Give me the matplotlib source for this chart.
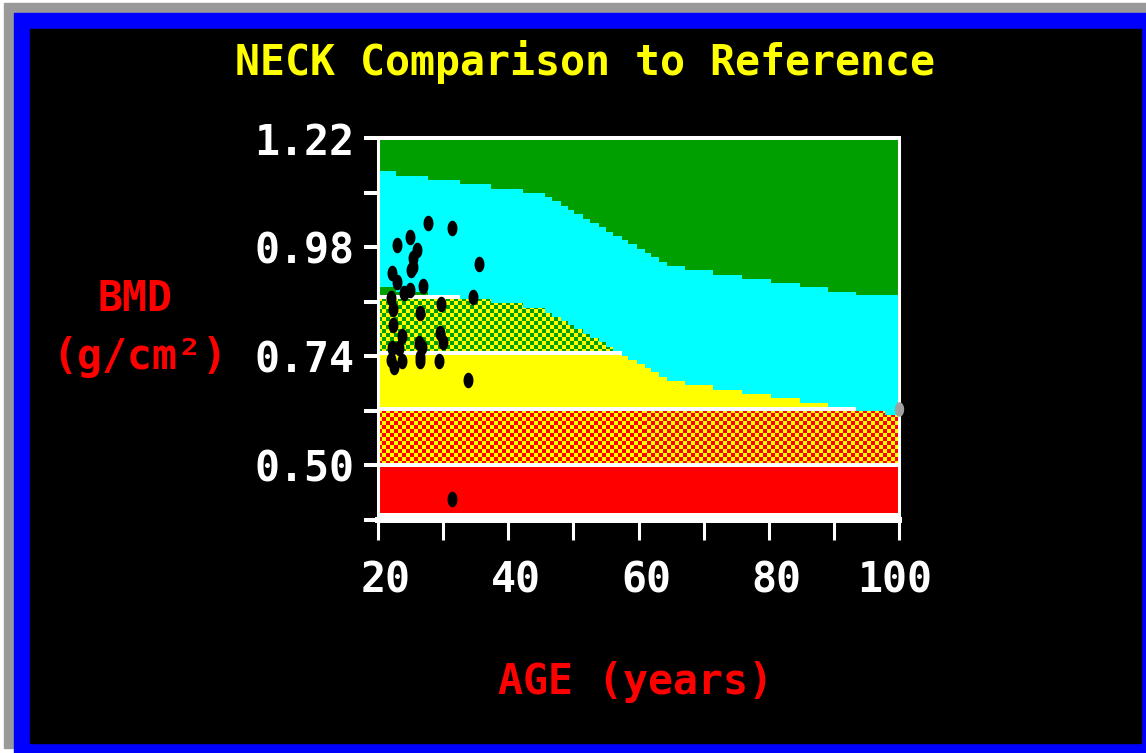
import numpy as np
import matplotlib
matplotlib.use("Agg")
import matplotlib.pyplot as plt
from matplotlib.colors import ListedColormap
from matplotlib.patches import Rectangle
from matplotlib.path import Path
from matplotlib.transforms import ScaledTranslation

# ---------------- data ----------------
title = "NECK Comparison to Reference"
y_label_1 = "BMD"
y_label_2 = "(g/cm²)"
x_label = "AGE (years)"

# reference curve step edges (age) and upper / lower BMD limits of the cyan band
step_ages = [20.0, 22.7, 27.7, 32.6, 37.4, 42.3, 45.6, 46.7, 48.1, 49.2, 50.1, 51.5,
             52.6, 53.9, 55.0, 56.1, 57.4, 58.4, 59.8, 61.0, 61.9, 63.2, 64.3, 67.2,
             71.5, 75.9, 80.4, 84.8, 89.1, 93.4, 97.8, 100.0]
upper = [1.148, 1.137, 1.128, 1.119, 1.108, 1.100, 1.090, 1.082, 1.071, 1.062, 1.053,
         1.042, 1.034, 1.025, 1.014, 1.005, 0.996, 0.987, 0.976, 0.968, 0.959, 0.948,
         0.939, 0.930, 0.919, 0.910, 0.902, 0.893, 0.882, 0.875, 0.875]
lower = [0.892, 0.881, 0.875, 0.866, 0.857, 0.846, 0.836, 0.827, 0.818, 0.809, 0.800,
         0.789, 0.780, 0.771, 0.761, 0.753, 0.742, 0.732, 0.723, 0.714, 0.705, 0.695,
         0.686, 0.677, 0.666, 0.657, 0.648, 0.637, 0.628, 0.620, 0.611]

# horizontal threshold bands (bottom -> top)
band_edges = [0.395, 0.502, 0.625, 0.748, 0.871, 1.22]
band_colors = [("#ff0000",), ("#ff0000", "#ffff00"), ("#ffff00",),
               ("#009f00", "#ffff00"), ("#009f00",)]

# measurements (age, BMD)
pt_age = [27.74, 31.36, 22.95, 24.99, 26.03, 25.33, 25.45, 25.02, 35.54, 22.18, 22.93,
          26.94, 24.94, 24.04, 22.07, 34.62, 29.70, 22.33, 26.48, 22.23, 23.69, 29.49,
          29.95, 26.33, 26.76, 22.20, 23.27, 26.50, 22.07, 23.69, 26.45, 29.44, 22.46,
          33.83, 31.32]
pt_bmd = [1.033, 1.022, 0.985, 1.003, 0.974, 0.957, 0.936, 0.931, 0.943, 0.923, 0.903,
          0.894, 0.886, 0.879, 0.868, 0.870, 0.856, 0.844, 0.835, 0.809, 0.785, 0.791,
          0.772, 0.770, 0.761, 0.758, 0.758, 0.739, 0.732, 0.731, 0.731, 0.731, 0.717,
          0.688, 0.426]
current_age = [100.0]
current_bmd = [0.624]

x_ticks = [20, 30, 40, 50, 60, 70, 80, 90, 100]
x_tick_labels = ["20", "", "40", "", "60", "", "80", "", "100"]
y_ticks = [0.38, 0.50, 0.62, 0.74, 0.86, 0.98, 1.10, 1.22]
y_tick_labels = ["", "0.50", "", "0.74", "", "0.98", "", "1.22"]

# ---------------- figure ----------------
W, H, DPI = 1146, 753, 100
fig = plt.figure(figsize=(W / DPI, H / DPI), dpi=DPI, facecolor="white")
FONT = "DejaVu Sans Mono"
FS = 30


def px_rect(x0, y0, x1, y1, color):
    fig.patches.append(Rectangle((x0 / W, 1 - y1 / H), (x1 - x0) / W, (y1 - y0) / H,
                                 transform=fig.transFigure, color=color, zorder=-5))


px_rect(4, 3.3, W, 748, "#999999")
px_rect(14, 12.7, W, H, "#0000ff")
px_rect(30, 29.3, 1141, 742.7, "#000000")

ax_l, ax_r, ax_t, ax_b = 378, 899, 138.3, 520
ax = fig.add_axes([ax_l / W, 1 - ax_b / H, (ax_r - ax_l) / W, (ax_b - ax_t) / H])
ax.set_zorder(2)
ax.set_facecolor("black")
ax.set_xlim(20, 100)
ax.set_ylim(0.38, 1.22)

# threshold bands
cell_px = 4.0
ppu_x = (ax_r - ax_l) / 80.0
ppu_y = (ax_b - ax_t) / (1.22 - 0.38)
for lo, hi, cols in zip(band_edges[:-1], band_edges[1:], band_colors):
    if len(cols) == 1:
        ax.axhspan(lo, hi, color=cols[0], lw=0, zorder=1)
    else:
        nx = int(round(80 * ppu_x / cell_px))
        ny = int(round((hi - lo) * ppu_y / cell_px))
        ii, jj = np.indices((ny, nx))
        ax.imshow((ii + jj) % 2, cmap=ListedColormap(list(cols)), extent=(20, 100, lo, hi),
                  aspect="auto", interpolation="nearest", origin="lower", zorder=1)
ax.axhspan(0.38, band_edges[0], color="white", lw=0, zorder=1)
for yv in band_edges[1:-1]:
    ax.axhline(yv, color="white", lw=2.9, zorder=2)

# reference (cyan) band
ax.fill_between(step_ages, upper + [upper[-1]], lower + [lower[-1]], step="post",
                color="#00ffff", lw=0, zorder=3)

# measurement dots (tall ellipses)
theta = np.linspace(0, 2 * np.pi, 64)
ell = Path(np.column_stack([0.64 * np.cos(theta), np.sin(theta)]), closed=True)
ax.scatter(pt_age, pt_bmd, s=125, marker=ell, color="black", lw=0, zorder=6)
ax.scatter(current_age, current_bmd, s=110, marker=ell, color="#a0a0a0", lw=0,
           zorder=10, clip_on=False)

# spines and ticks
for side, lw in (("left", 2.2), ("right", 2.2), ("top", 2.9), ("bottom", 4.3)):
    ax.spines[side].set_color("white")
    ax.spines[side].set_linewidth(lw)
    ax.spines[side].set_zorder(8)

ax.set_xticks(x_ticks)
ax.set_xticklabels(x_tick_labels, fontfamily=FONT, fontweight="bold", fontsize=FS,
                   color="white")
ax.set_yticks(y_ticks)
ax.set_yticklabels(y_tick_labels, fontfamily=FONT, fontweight="bold", fontsize=FS,
                   color="white")
ax.tick_params(axis="x", direction="out", length=14.4, width=2.2, color="white", pad=14)
ax.tick_params(axis="y", direction="out", length=10, width=2.9, color="white", pad=7)
offset = ScaledTranslation(33 / DPI, 0, fig.dpi_scale_trans)
for lab in ax.get_xticklabels():
    lab.set_horizontalalignment("right")
    lab.set_transform(lab.get_transform() + offset)

# texts
fig.text(585 / W, 1 - 75 / H, title, ha="center", va="baseline", color="#ffff00",
         fontfamily=FONT, fontweight="bold", fontsize=FS)
fig.text(135 / W, 1 - 311 / H, y_label_1, ha="center", va="baseline", color="#ff0000",
         fontfamily=FONT, fontweight="bold", fontsize=FS)
fig.text(140 / W, 1 - 369 / H, y_label_2, ha="center", va="baseline", color="#ff0000",
         fontfamily=FONT, fontweight="bold", fontsize=FS)
fig.text(636 / W, 1 - 694 / H, x_label, ha="center", va="baseline", color="#ff0000",
         fontfamily=FONT, fontweight="bold", fontsize=FS)

fig.savefig("out.png", dpi=DPI, facecolor=fig.get_facecolor())
